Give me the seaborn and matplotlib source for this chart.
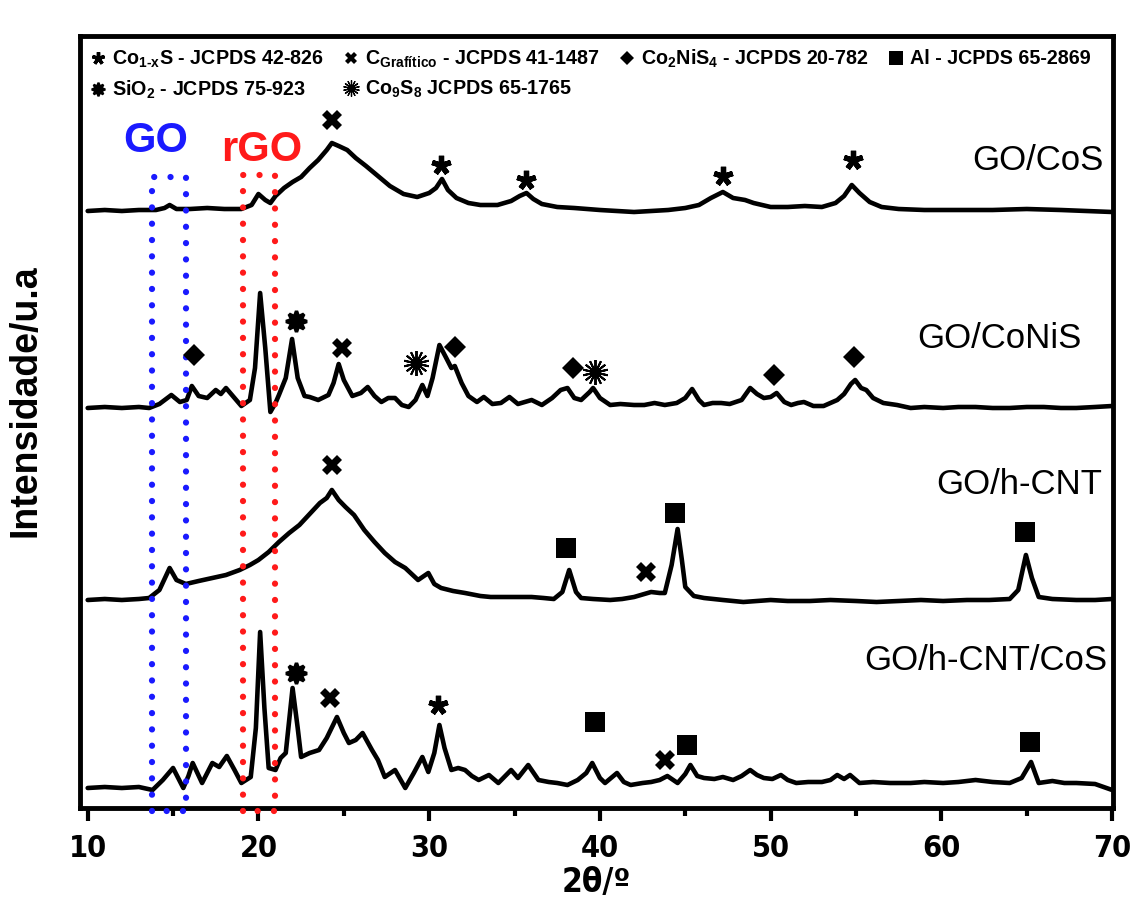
import numpy as np
import pandas as pd
import matplotlib
matplotlib.use("Agg")
import matplotlib.pyplot as plt
from matplotlib.lines import Line2D
from matplotlib import font_manager
import seaborn as sns

# ---------------- data (2theta, intensity above each trace's own baseline) ----------------
tt_cos = [10, 11, 12, 13, 14, 14.5, 14.8, 15.2, 16, 17, 18, 19, 19.6, 20.0, 20.4, 20.7, 21.0, 21.5, 22, 22.5,
          23, 23.5, 24.0, 24.3, 24.7, 25.2, 25.7, 26.3, 27, 27.7, 28.5, 29.3, 30.0, 30.4, 30.75, 31.1, 31.6,
          32.3, 33, 34, 34.8, 35.3, 35.7, 36.1, 36.6, 37.5, 38.5, 40, 41, 42, 43, 44, 45, 45.8, 46.5, 47.2,
          47.8, 48.5, 49, 50, 51, 52, 53, 53.8, 54.3, 54.75, 55.2, 55.8, 56.5, 57.5, 59, 61, 63, 65, 67, 68.5, 70]
int_cos = [-1, 0, -1, 0, 0, 2, 5, 1, 1, 2, 1, 1, 5, 16, 10, 7, 14, 22, 28, 33,
           42, 50, 60, 67, 64, 60, 52, 44, 34, 24, 16, 13, 17, 22, 31, 20, 12,
           7, 5, 5, 9, 14, 17, 11, 6, 3, 2, 0, -1, -2, -1, 0, 2, 5, 12, 18,
           12, 10, 7, 3, 3, 4, 3, 7, 14, 25, 17, 8, 3, 1, 0, 0, 0, 1, 0, -1, -2]

tt_conis = [10, 11, 12, 13, 13.6, 14.2, 14.9, 15.4, 15.8, 16.1, 16.5, 17.0, 17.5, 17.8, 18.1, 18.5, 19.0, 19.5,
            19.8, 20.1, 20.4, 20.7, 21.0, 21.2, 21.6, 21.97, 22.3, 22.7, 23.0, 23.5, 24.1, 24.4, 24.7, 25.0,
            25.5, 26.0, 26.4, 26.8, 27.2, 27.6, 28.0, 28.4, 28.8, 29.2, 29.6, 29.9, 30.2, 30.6, 31.0, 31.3,
            31.5, 31.9, 32.3, 32.8, 33.2, 33.7, 34.2, 34.7, 35.2, 36.0, 36.6, 37.2, 37.7, 38.1, 38.5, 38.9,
            39.4, 39.6, 40.0, 40.6, 41.2, 42.0, 42.6, 43.2, 43.8, 44.5, 45.0, 45.4, 45.8, 46.1, 46.6, 47.1,
            47.6, 48.3, 48.8, 49.2, 49.6, 50.0, 50.35, 50.8, 51.2, 51.6, 51.95, 52.5, 53.1, 53.5, 53.9, 54.3,
            54.7, 54.95, 55.3, 55.6, 56.0, 56.6, 57.4, 58.2, 59.0, 60.1, 61.0, 62.0, 63.0, 64.0, 65.0, 66.0,
            67.0, 67.9, 69.0, 70]
int_conis = [0, 1, 0, 1, 0, 4, 13, 6, 8, 22, 12, 10, 18, 14, 20, 12, 2, 8,
             40, 115, 60, -4, 5, 13, 30, 69, 30, 12, 11, 8, 13, 25, 44, 28,
             12, 15, 21, 12, 6, 10, 10, 3, 1, 8, 23, 12, 30, 63, 50, 40,
             42, 25, 12, 6, 11, 4, 5, 11, 4, 8, 3, 10, 18, 20, 10, 8,
             16, 20, 10, 3, 4, 3, 3, 5, 3, 5, 10, 19, 8, 3, 5, 5,
             4, 8, 20, 14, 10, 11, 15, 6, 3, 5, 6, 2, 2, 5, 8, 14,
             24, 28, 20, 18, 10, 5, 3, 0, 1, 0, 1, 1, 0, 0, 1, 1,
             0, 0, 1, 2]

tt_hcnt = [10, 11, 12, 13, 13.6, 14.2, 14.8, 15.2, 15.75, 16.5, 17.3, 18.1, 18.9, 19.5, 20.0, 20.6, 21.2, 21.8,
           22.4, 23.0, 23.6, 24.0, 24.3, 24.7, 25.1, 25.6, 26.2, 26.8, 27.4, 28.0, 28.6, 29.35, 29.95, 30.3,
           30.7, 31.4, 32.1, 33.0, 33.6, 34.5, 35.3, 36.0, 36.7, 37.3, 37.8, 38.2, 38.6, 38.9, 39.6, 40.6,
           41.3, 42.0, 42.6, 43.0, 43.5, 43.8, 44.2, 44.55, 44.8, 45.0, 45.5, 46.1, 47.2, 48.4, 50.0, 51.0,
           52.3, 53.5, 55.0, 56.2, 57.5, 58.8, 60.1, 61.5, 62.8, 64.0, 64.5, 64.95, 65.3, 65.7, 66.5, 67.9,
           69.0, 70]
int_hcnt = [0, 1, 0, 1, 2, 10, 32, 20, 16, 19, 22, 25, 30, 35, 40, 48, 58, 67,
            75, 86, 97, 102, 110, 100, 93, 85, 70, 58, 47, 38, 32, 20, 27, 16,
            12, 9, 7, 4, 3, 3, 3, 3, 2, 1, 8, 30, 8, 2, 1, 0,
            1, 3, 6, 8, 7, 7, 35, 71, 40, 13, 4, 2, 0, -2, 0, -1,
            -1, 0, -1, -2, -1, 0, -1, 0, 0, 1, 10, 45, 22, 3, 1, 0,
            0, 1]

tt_hcnt_cos = [10, 11, 12, 13, 13.8, 14.4, 15.0, 15.3, 15.6, 15.9, 16.15, 16.7, 17.0, 17.3, 17.7, 18.15, 18.6,
               19.0, 19.55, 19.85, 20.1, 20.35, 20.6, 21.0, 21.3, 21.6, 22.0, 22.3, 22.5, 23.0, 23.55, 24.0,
               24.6, 25.0, 25.3, 25.7, 26.1, 26.65, 27.0, 27.4, 28.0, 28.6, 29.1, 29.6, 29.95, 30.3, 30.6,
               30.9, 31.3, 31.7, 32.1, 32.5, 32.9, 33.5, 34.05, 34.8, 35.2, 35.8, 36.4, 37.0, 37.5, 38.1,
               38.7, 39.2, 39.55, 40.0, 40.3, 41.0, 41.4, 41.8, 42.5, 43.0, 43.5, 43.95, 44.55, 45.0, 45.3,
               45.7, 46.1, 46.7, 47.2, 47.8, 48.3, 48.8, 49.2, 49.6, 50.1, 50.6, 51.0, 51.5, 52.2, 53.0,
               53.5, 53.9, 54.3, 54.65, 55.2, 56.0, 57.0, 58.2, 59.0, 60.1, 61.0, 62.0, 63.0, 64.0, 64.7,
               65.25, 65.7, 66.5, 67.2, 67.9, 69.0, 70]
int_hcnt_cos = [0, 1, 0, 1, -2, 8, 20, 10, 0, 12, 25, 5, 15, 25, 21, 32, 18,
                5, 11, 60, 156, 80, 20, 18, 30, 35, 100, 60, 31, 35, 38, 50,
                71, 55, 45, 48, 55, 38, 28, 11, 18, 0, 15, 31, 16, 35, 63,
                40, 18, 20, 18, 12, 8, 13, 5, 18, 10, 23, 8, 6, 5, 3,
                8, 15, 25, 10, 5, 15, 6, 3, 5, 6, 8, 12, 5, 14, 23,
                12, 10, 9, 11, 8, 12, 18, 13, 10, 9, 13, 8, 5, 6, 6,
                8, 13, 9, 13, 5, 6, 5, 5, 6, 5, 6, 8, 6, 5, 10,
                26, 5, 7, 5, 5, 4, -2]

samples = ["GO/CoS", "GO/CoNiS", "GO/h-CNT", "GO/h-CNT/CoS"]

# ---------------- style ----------------
sns.set_theme(style="white")
plt.rcParams["font.family"] = ["Liberation Sans", "DejaVu Sans"]
plt.rcParams["text.color"] = "black"
plt.rcParams["axes.labelcolor"] = "black"
plt.rcParams["xtick.color"] = "black"
plt.rcParams["mathtext.fontset"] = "custom"
plt.rcParams["mathtext.rm"] = "Liberation Sans:bold"
plt.rcParams["mathtext.bf"] = "Liberation Sans:bold"
plt.rcParams["mathtext.it"] = "Liberation Sans:bold"

installed = {f.name for f in font_manager.fontManager.ttflist}
if "Liberation Sans Narrow" in installed:
    narrow = dict(family=["Liberation Sans Narrow", "DejaVu Sans"])
else:
    narrow = dict(family=["DejaVu Sans"], stretch="condensed")

fig = plt.figure(figsize=(11.35, 9.0), dpi=100)
ax = fig.add_axes([80 / 1135, 1 - 808 / 900, (1113 - 80) / 1135, (808 - 36) / 900])

offsets = [598, 400, 208, 20]
frames = []
for name, tt, it, off in zip(samples, [tt_cos, tt_conis, tt_hcnt, tt_hcnt_cos],
                             [int_cos, int_conis, int_hcnt, int_hcnt_cos], offsets):
    frames.append(pd.DataFrame({"2theta": tt, "I": np.array(it) + off, "sample": name}))
df = pd.concat(frames, ignore_index=True)

sns.lineplot(data=df, x="2theta", y="I", hue="sample", units="sample", estimator=None,
             palette=["black"] * 4, linewidth=3.3, legend=False, sort=False, ax=ax)

ax.set_xlim(9.55, 70.05)
ax.set_ylim(0, 772)
ax.set_yticks([])
ax.set_xticks([10, 20, 30, 40, 50, 60, 70])
ax.set_xticks([15, 25, 35, 45, 55, 65], minor=True)
ax.tick_params(axis="x", which="major", direction="out", length=9, width=3, bottom=True, pad=10)
ax.tick_params(axis="x", which="minor", direction="out", length=6, width=3, bottom=True)
for lab in ax.get_xticklabels():
    lab.set(fontweight="bold", fontsize=22, **narrow)
for s in ax.spines.values():
    s.set_linewidth(3.5)
    s.set_color("black")

ax.set_xlabel("2θ/º", fontsize=24, fontweight="bold", labelpad=2, **narrow)
ax.set_ylabel("Intensidade/u.a", fontsize=27, fontweight="bold")
ax.yaxis.set_label_coords(-0.035, 0.528)

# ---------------- GO / rGO dotted boxes ----------------
dot = dict(linestyle=(0, (0.01, 2.6)), linewidth=4.5, dash_capstyle="round", solid_capstyle="round",
           clip_on=False, zorder=3)
ax.plot([13.75, 13.75, 15.75, 15.75, 13.75], [-3, 631, 631, -3, -3], color="#1a1aff", **dot)
ax.plot([19.1, 19.1, 20.95, 20.95, 19.1], [-3, 633, 633, -3, -3], color="#ff1a1a", **dot)
ax.text(14.0, 667, "GO", color="#1a1aff", fontsize=30, fontweight="bold", ha="center", va="center")
ax.text(20.2, 658, "rGO", color="#ff1a1a", fontsize=30, fontweight="bold", ha="center", va="center")

# ---------------- sample labels ----------------
label_pos = [(69.5, 648), (68.2, 470), (69.4, 324), (69.7, 148)]
for name, (lx, ly) in zip(samples, label_pos):
    ax.text(lx, ly, name, fontsize=25, ha="right", va="center")

# ---------------- phase markers ----------------
m_cos = dict(marker=(5, 2, 0), markersize=14, markeredgewidth=3.8)
m_c = dict(marker="X", markersize=14, markeredgewidth=0)
m_d = dict(marker="D", markersize=11, markeredgewidth=0)
m_al = dict(marker="s", markersize=15, markeredgewidth=0)
m_si = dict(marker=(8, 1, 0), markersize=15, markeredgewidth=2.5)
m_co9 = dict(marker=(14, 2, 0), markersize=18, markeredgewidth=1.4)

phases = {
    "cos": ([30.7, 35.7, 47.2, 54.8, 30.5], [643, 628, 632, 648, 103], m_cos),
    "c": ([24.3, 24.9, 24.3, 42.7, 24.2, 43.8], [688, 460, 343, 236, 110, 48], m_c),
    "d": ([16.2, 31.5, 38.4, 50.2, 54.9], [453, 461, 440, 433, 451], m_d),
    "al": ([38.0, 44.4, 64.9, 39.7, 45.1, 65.2], [260, 295, 276, 86, 63, 66], m_al),
    "si": ([22.2, 22.2], [487, 135], m_si),
    "co9": ([29.2, 39.7], [445, 436], m_co9),
}
for key, (px, py, st) in phases.items():
    ax.plot(px, py, linestyle="none", color="black", markeredgecolor="black", zorder=4, **st)

# ---------------- legend ----------------
def h(st, scale=0.65):
    d = dict(st)
    d["markersize"] = d["markersize"] * scale
    d["markeredgewidth"] = d["markeredgewidth"] * scale
    return Line2D([], [], linestyle="none", color="black", markeredgecolor="black", **d)

handles = [h(m_cos), h(m_si), h(m_c), h(m_co9), h(m_d), h(m_al)]
labels = [r"Co$_{\mathbf{1\text{-}x}}$S - JCPDS 42-826",
          r"SiO$_{\mathbf{2}}$ - JCPDS 75-923",
          r"C$_{\mathbf{Grafítico}}$ - JCPDS 41-1487",
          r"Co$_{\mathbf{9}}$S$_{\mathbf{8}}$ JCPDS 65-1765",
          r"Co$_{\mathbf{2}}$NiS$_{\mathbf{4}}$ - JCPDS 20-782",
          r"Al - JCPDS 65-2869"]
leg = ax.legend(handles, labels, ncol=4, loc="upper left", bbox_to_anchor=(0.0, 0.998), frameon=False,
                prop=dict(weight="bold", size=14.2), handlelength=0.8, handletextpad=0.3,
                columnspacing=1.0, borderaxespad=0.1, labelspacing=0.45)

fig.savefig("out.png", dpi=100)
